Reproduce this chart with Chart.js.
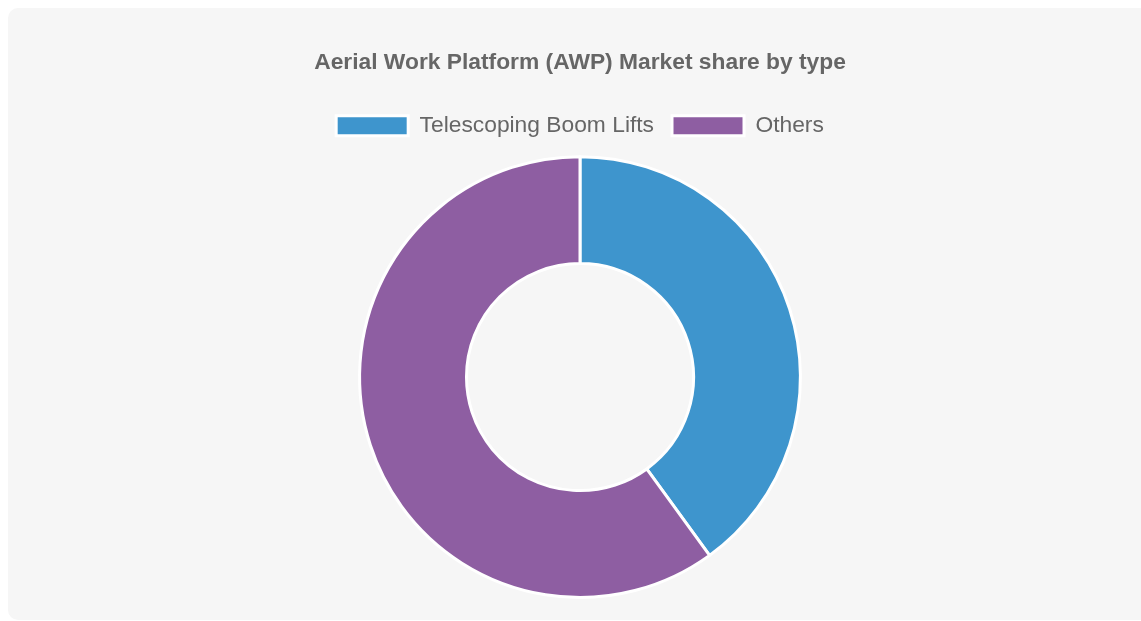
<!DOCTYPE html>
<html>
<head>
<meta charset="utf-8">
<script src="https://cdn.jsdelivr.net/npm/chart.js@4.4.0/dist/chart.umd.min.js"></script>
<style>
    body {
        margin: 0;
        background: #ffffff;
        overflow: hidden;
    }
    .painel {
        position: absolute;
        left: 8px;
        top: 8px;
        width: 1144px;
        height: 612px;
        background: #f6f6f6;
        border-radius: 10px;
    }
</style>
</head>
<body>
<div class="painel">
    <canvas id="graficoTipo"></canvas>
</div>

<script>
const tipos = ['Telescoping Boom Lifts', 'Others'];
const participacao = [40, 60];
const cores = ['#3e95cd', '#8e5ea2'];

// espaço extra entre a legenda e o gráfico
const espacoLegenda = {
    id: 'espacoLegenda',
    beforeInit(chart) {
        const fitOriginal = chart.legend.fit;
        chart.legend.fit = function () {
            fitOriginal.bind(chart.legend)();
            this.height += 8;
        };
    }
};

const ctx = document.getElementById('graficoTipo');

new Chart(ctx, {
    type: 'doughnut',
    data: {
        labels: tipos,
        datasets: [{
            data: participacao,
            backgroundColor: cores,
            borderColor: '#ffffff',
            borderWidth: 3
        }]
    },
    options: {
        responsive: true,
        maintainAspectRatio: false,
        animation: false,
        cutout: '51.5%',
        layout: {
            padding: { top: 21, bottom: 21 }
        },
        plugins: {
            title: {
                display: true,
                text: 'Aerial Work Platform (AWP) Market share by type',
                color: '#666666',
                font: { family: 'Liberation Sans', size: 22.8, weight: 'bold' },
                padding: { top: 20, bottom: 20 }
            },
            legend: {
                position: 'top',
                labels: {
                    color: '#666666',
                    boxWidth: 72,
                    boxHeight: 20,
                    padding: 18,
                    font: { family: 'Liberation Sans', size: 22.8 }
                }
            },
            tooltip: { enabled: false }
        }
    },
    plugins: [espacoLegenda]
});
</script>
</body>
</html>
